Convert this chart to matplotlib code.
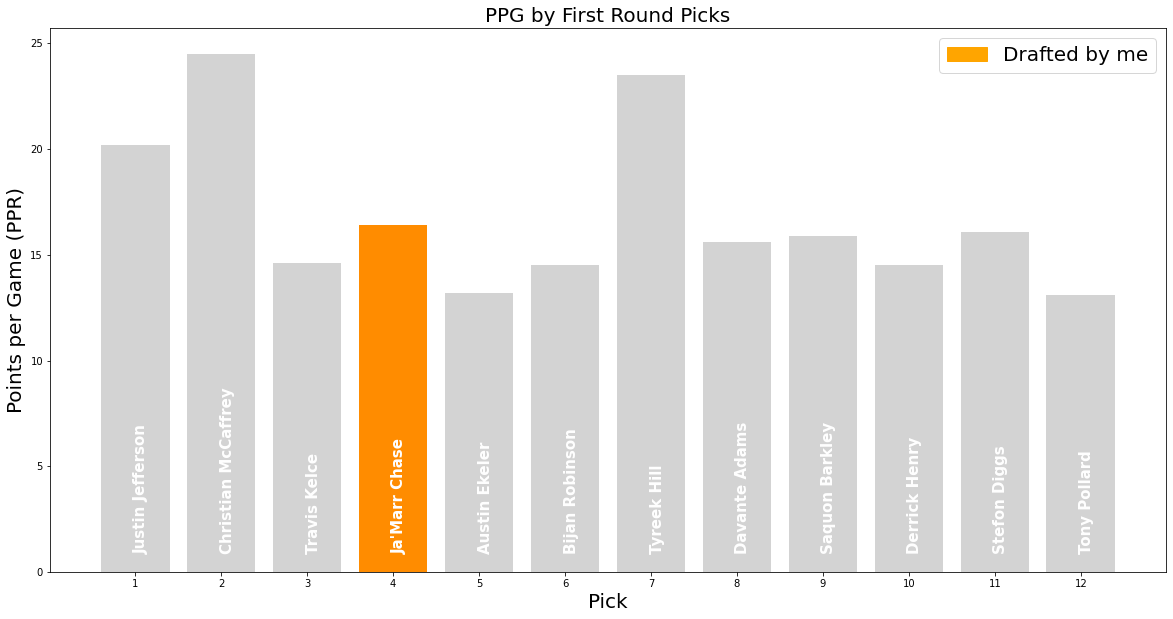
import matplotlib
matplotlib.use('Agg')
import matplotlib.pyplot as plt
import matplotlib.patches as mpatches

# Pick order and points per game
picks = list(range(1, 13))
players = ['Justin Jefferson', 'Christian McCaffrey', 'Travis Kelce', "Ja'Marr Chase",
           'Austin Ekeler', 'Bijan Robinson', 'Tyreek Hill', 'Davante Adams',
           'Saquon Barkley', 'Derrick Henry', 'Stefon Diggs', 'Tony Pollard']
ppg = [20.2, 24.5, 14.6, 16.4, 13.2, 14.5, 23.5, 15.6, 15.9, 14.5, 16.1, 13.1]
my_pick = 4

fig = plt.figure(figsize=(1173 / 72, 619 / 72), dpi=72)
ax = fig.add_axes([50 / 1173, 1 - 572 / 619, 1116 / 1173, 544 / 619])

colors = ['darkorange' if p == my_pick else 'lightgray' for p in picks]
ax.bar(picks, ppg, color=colors)

# Player names inside the bars
for p, name in zip(picks, players):
    ax.text(p + 0.07, 0.85, name, rotation=90, ha='center', va='bottom',
            color='white', fontsize=15, fontweight='bold')

ax.set_xticks(picks)
ax.set_title('PPG by First Round Picks', fontsize=20)
ax.set_xlabel('Pick', fontsize=20)
ax.set_ylabel('Points per Game (PPR)', fontsize=20)

handle = mpatches.Patch(color='orange', label='Drafted by me')
ax.legend(handles=[handle], fontsize=20, loc='upper right')

fig.savefig('out.png', dpi=72)
